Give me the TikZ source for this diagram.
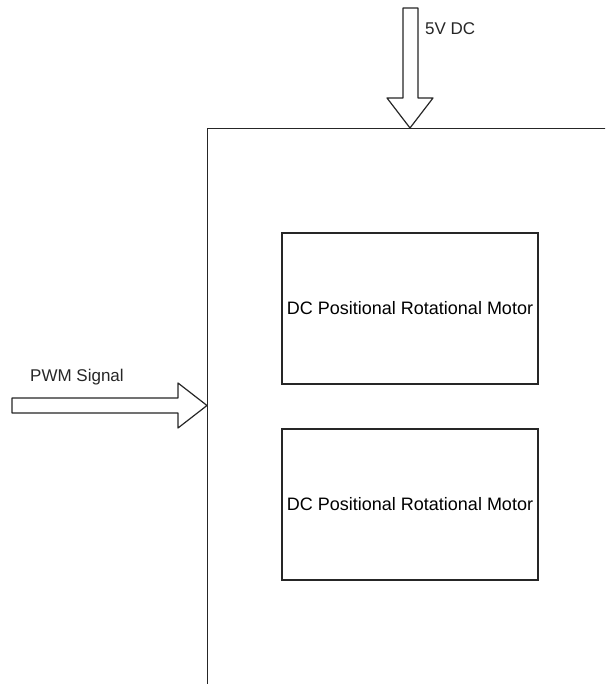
\documentclass[tikz,border=0pt]{standalone}
\usepackage{fontspec}
\setmainfont{Liberation Sans}
\begin{document}
\begin{tikzpicture}[x=1pt,y=-1pt,
  line/.style={draw=black!85,line width=1.2pt},
  motorbox/.style={line, rectangle, minimum width=256pt, minimum height=151pt, inner sep=0pt, font=\fontsize{18}{21}\selectfont},
  lbl/.style={font=\fontsize{17}{20}\selectfont, text=black!85, inner sep=0pt, anchor=west},
  fatarrow/.style={line, fill=white, line join=round}]
\useasboundingbox (0,0) rectangle (605,684);
\clip (0,0) rectangle (605,684);
% outer unit (cropped on right and bottom)
\node[line, rectangle, minimum width=420pt, minimum height=580pt, inner sep=0pt, anchor=north west] (unit) at (207,128) {};
\coordinate (toptip) at (410,128);
\coordinate (lefttip) at (207,405.5);
% motors
\node[motorbox] (m1) at (410,308.5) {DC Positional Rotational Motor};
\node[motorbox] (m2) at (410,504.5) {DC Positional Rotational Motor};
% 5V DC arrow
\draw[fatarrow] (toptip) -- (433,98) -- (418,98) -- (418,8) -- (403,8) -- (403,98) -- (387,98) -- cycle;
\node[lbl] (v5) at (425,29) {5V DC};
% PWM arrow
\draw[fatarrow] (lefttip) -- (178,428) -- (178,413) -- (12,413) -- (12,398) -- (178,398) -- (178,383) -- cycle;
\node[lbl] (pwm) at (30,377) {PWM Signal};
\end{tikzpicture}
\end{document}
